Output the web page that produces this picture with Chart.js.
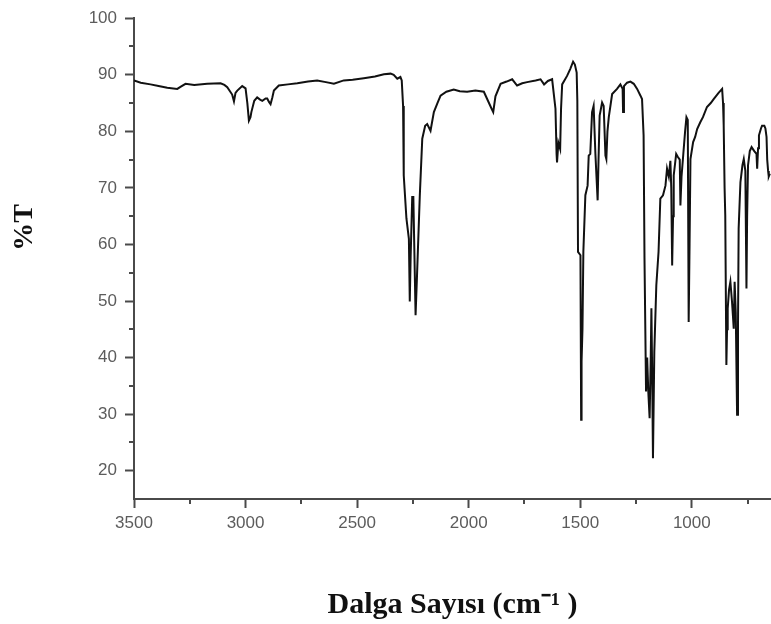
<!DOCTYPE html>
<html>
<head>
<meta charset="utf-8">
<script src="https://cdn.jsdelivr.net/npm/chart.js@4/dist/chart.umd.min.js"></script>
<style>
  html, body { margin: 0; padding: 0; background: #ffffff; }
  #wrap { position: relative; width: 771px; height: 624px; }
</style>
</head>
<body>
<div id="wrap"><canvas id="c" width="771" height="624"></canvas></div>
<script>
// ---- data ----
const wavenumbers = [
  3500, 3470, 3426, 3390, 3351, 3306, 3290, 3269, 3230, 3172, 3112, 3095, 3082, 3060, 3052, 3045, 3037, 3015, 3000,
  2992, 2985, 2978, 2974, 2961, 2948, 2935, 2925, 2910, 2903, 2895, 2888, 2880, 2873, 2851, 2810, 2768, 2720, 2679,
  2640, 2604, 2560, 2520, 2470, 2420, 2380, 2350, 2336, 2320, 2306, 2300, 2294, 2291, 2279, 2268, 2264, 2260, 2253,
  2248, 2238, 2232, 2219, 2208, 2195, 2186, 2171, 2156, 2140, 2126, 2100, 2067, 2040, 2007, 1970, 1932, 1910, 1895,
  1890, 1880, 1857, 1830, 1805, 1783, 1760, 1738, 1700, 1678, 1662, 1645, 1626, 1611, 1606, 1604, 1598, 1590, 1586,
  1581, 1559, 1545, 1532, 1524, 1516, 1513, 1510, 1499, 1496, 1494, 1490, 1486, 1477, 1467, 1462, 1455, 1447, 1440,
  1432, 1422, 1418, 1413, 1402, 1395, 1387, 1383, 1378, 1372, 1357, 1335, 1320, 1310, 1308, 1304, 1290, 1275, 1260,
  1245, 1230, 1223, 1216, 1212, 1205, 1200, 1195, 1189, 1184, 1181, 1177, 1174, 1168, 1159, 1149, 1141, 1129, 1118,
  1111, 1103, 1096, 1092, 1088, 1084, 1081, 1070, 1063, 1054, 1051, 1046, 1038, 1030, 1024, 1018, 1014, 1010, 1006,
  994, 985, 976, 962, 950, 932, 915, 902, 880, 864, 860, 857, 853, 850, 845, 842, 839, 833, 827, 820, 815, 812, 808,
  803, 797, 793, 790, 785, 782, 773, 767, 760, 755, 752, 748, 740, 732, 720, 710, 707, 703, 699, 690, 685, 675, 670,
  665, 662, 658, 655, 650
];
const transmittance = [
  89.0, 88.6, 88.3, 88.0, 87.7, 87.5, 87.9, 88.4, 88.2, 88.4, 88.5, 88.2, 87.8, 86.5, 85.3, 86.8, 87.2, 88.0, 87.6,
  85.0, 81.9, 82.5, 83.4, 85.4, 86.0, 85.6, 85.4, 85.8, 85.8, 85.2, 84.8, 86.0, 87.2, 88.1, 88.3, 88.5, 88.8, 89.0,
  88.7, 88.4, 89.0, 89.1, 89.4, 89.7, 90.1, 90.2, 90.0, 89.3, 89.6, 89.0, 84.5, 72.2, 64.6, 61.0, 49.9, 58.0, 68.4,
  68.4, 47.5, 54.0, 68.7, 78.7, 81.0, 81.3, 80.1, 83.4, 85.0, 86.3, 87.0, 87.4, 87.1, 87.0, 87.2, 87.0, 85.1, 83.8,
  83.4, 86.2, 88.4, 88.8, 89.2, 88.1, 88.5, 88.7, 89.0, 89.2, 88.3, 88.9, 89.2, 84.0, 76.0, 74.5, 78.0, 76.9, 84.0,
  88.3, 89.8, 91.0, 92.3, 91.8, 90.4, 85.4, 58.7, 58.1, 29.0, 39.3, 45.0, 58.7, 68.7, 70.4, 75.7, 76.0, 83.4, 84.5,
  76.0, 67.8, 75.0, 82.8, 85.1, 84.5, 75.7, 75.1, 80.0, 82.5, 86.6, 87.5, 88.3, 87.5, 83.4, 88.0, 88.6, 88.8, 88.4,
  87.5, 86.3, 85.7, 79.3, 57.5, 34.0, 40.0, 34.0, 29.3, 40.0, 48.7, 35.0, 22.2, 41.0, 52.8, 58.7, 68.1, 68.7, 70.4,
  73.4, 72.0, 74.8, 70.0, 56.3, 65.0, 72.2, 76.0, 75.5, 75.0, 66.9, 72.0, 76.0, 80.0, 82.5, 82.0, 46.3, 60.0, 75.1,
  78.1, 79.0, 80.4, 81.6, 82.5, 84.3, 85.0, 85.7, 86.8, 87.5, 85.0, 81.0, 70.0, 65.2, 38.7, 45.0, 48.7, 52.0, 53.4,
  50.0, 47.0, 45.1, 53.4, 48.0, 29.9, 45.0, 62.8, 68.0, 71.0, 74.0, 75.1, 73.0, 52.2, 65.0, 74.0, 76.5, 77.2, 76.5,
  76.0, 73.4, 77.0, 79.3, 80.5, 81.0, 81.0, 80.5, 79.0, 75.0, 73.0, 72.0, 72.5
];
const xTickValues = [3500, 3000, 2500, 2000, 1500, 1000];
const yTickValues = [20, 30, 40, 50, 60, 70, 80, 90, 100];
const xMinorTicks = [3250, 2750, 2250, 1750, 1250, 750];
const yMinorTicks = [95, 85, 75, 65, 55, 45, 35, 25];
const xTitle = 'Dalga Sayısı (cm⁻¹ )';
const yTitle = '%T';

const points = wavenumbers.map((w, i) => ({ x: w, y: transmittance[i] }));

const AXIS_COLOR = '#4a4a4a';
const LABEL_COLOR = '#5c5c5c';

const extras = {
  id: 'extras',
  afterDraw(chart) {
    const ctx = chart.ctx;
    const xs = chart.scales.x, ys = chart.scales.y;
    const area = chart.chartArea;
    ctx.save();
    ctx.strokeStyle = AXIS_COLOR;
    ctx.lineWidth = 2;
    ctx.beginPath();
    xMinorTicks.forEach(v => {
      const px = Math.round(xs.getPixelForValue(v));
      ctx.moveTo(px, area.bottom);
      ctx.lineTo(px, area.bottom + 5);
    });
    yMinorTicks.forEach(v => {
      const py = Math.round(ys.getPixelForValue(v));
      ctx.moveTo(area.left, py);
      ctx.lineTo(area.left - 5, py);
    });
    ctx.stroke();
    // y-axis title
    ctx.fillStyle = '#111';
    ctx.font = 'bold 28px "Liberation Serif", "Times New Roman", serif';
    ctx.textAlign = 'center';
    ctx.textBaseline = 'middle';
    ctx.translate(25, ys.getPixelForValue(63));
    ctx.rotate(-Math.PI / 2);
    ctx.fillText(yTitle, 0, 0);
    ctx.restore();
  }
};

new Chart(document.getElementById('c'), {
  type: 'line',
  data: {
    datasets: [{
      data: points,
      borderColor: '#111111',
      borderWidth: 2,
      pointRadius: 0,
      tension: 0,
      fill: false
    }]
  },
  options: {
    responsive: false,
    animation: false,
    parsing: false,
    layout: { padding: { top: 16, right: 0, bottom: 0, left: 0 } },
    plugins: { legend: { display: false }, tooltip: { enabled: false } },
    scales: {
      x: {
        type: 'linear',
        reverse: true,
        min: 645,
        max: 3500,
        afterFit(scale) { scale.height = 125; },
        afterBuildTicks(scale) { scale.ticks = xTickValues.map(v => ({ value: v })); },
        border: { display: true, color: AXIS_COLOR, width: 2 },
        grid: { drawOnChartArea: false, drawTicks: true, tickLength: 9, color: AXIS_COLOR, tickWidth: 2 },
        ticks: {
          padding: 5,
          color: LABEL_COLOR,
          font: { family: '"Liberation Sans", Arial, sans-serif', size: 17 },
          maxRotation: 0,
          callback: v => String(v)
        },
        title: {
          display: true,
          text: xTitle,
          color: '#111',
          font: { family: '"Liberation Serif", "Times New Roman", serif', size: 30, weight: 'bold' },
          padding: { top: 0, bottom: 1 }
        }
      },
      y: {
        type: 'linear',
        min: 15,
        max: 100,
        afterFit(scale) { scale.width = 134; },
        afterBuildTicks(scale) { scale.ticks = yTickValues.map(v => ({ value: v })); },
        border: { display: true, color: AXIS_COLOR, width: 2 },
        grid: { drawOnChartArea: false, drawTicks: true, tickLength: 9, color: AXIS_COLOR, tickWidth: 2 },
        ticks: {
          padding: 8,
          color: LABEL_COLOR,
          font: { family: '"Liberation Sans", Arial, sans-serif', size: 17 },
          callback: v => String(v)
        }
      }
    }
  },
  plugins: [extras]
});
</script>
</body>
</html>
